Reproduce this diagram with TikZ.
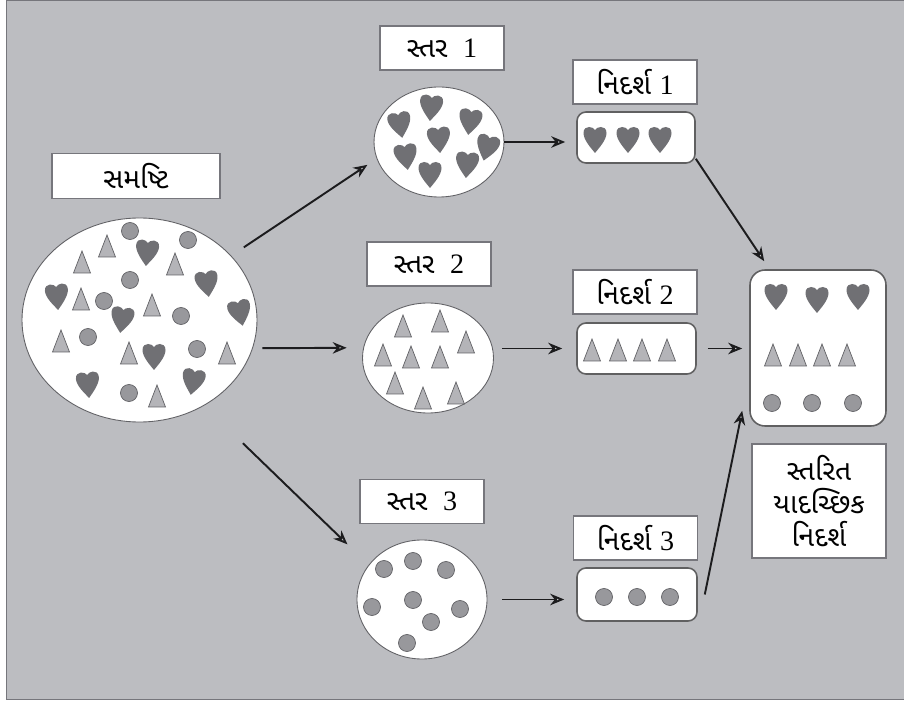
\documentclass[tikz,border=0pt]{standalone}
\usepackage{fontspec}
\setmainfont{Liberation Serif}
\newfontfamily\gujfont[Script=Gujarati]{Noto Sans Gujarati UI}
\usepackage{tikz}
\usetikzlibrary{arrows.meta,positioning,shapes.geometric}
\definecolor{panel}{RGB}{188,189,193}
\definecolor{rim}{RGB}{118,118,124}
\definecolor{ink}{RGB}{28,28,30}
\definecolor{heartgray}{RGB}{112,112,116}
\definecolor{trigray}{RGB}{180,180,184}
\definecolor{dotgray}{RGB}{152,152,156}
\definecolor{edge}{RGB}{98,98,102}
\newcommand{\guj}[1]{{\gujfont #1}}
\tikzset{
  >={Stealth[length=2.8mm,width=2.3mm,inset=0.9mm,open,fill=panel!55!white]},
  tag/.style={draw=rim,fill=white,line width=0.9pt,minimum width=24.8mm,
    minimum height=8.8mm,font=\fontsize{16}{19}\selectfont,inner sep=1pt,align=center},
  pool/.style={ellipse,draw=edge,fill=white,line width=0.5pt,inner sep=0pt},
  tray/.style={draw=ink!70,fill=white,rounded corners=1.8mm,line width=0.9pt,inner sep=0pt},
  flow/.style={->,line width=1.1pt,draw=ink},
  % pictograms
  pics/heart/.style={code={
    \fill[heartgray] (0,13) .. controls (-4,8) and (-11.5,0) .. (-11.5,-7)
      .. controls (-11.5,-11.5) and (-8.5,-13) .. (-6,-13)
      .. controls (-3,-13) and (-1,-11.5) .. (0,-10)
      .. controls (1,-11.5) and (3,-13) .. (6,-13)
      .. controls (8.5,-13) and (11.5,-11.5) .. (11.5,-7)
      .. controls (11.5,0) and (4,8) .. cycle;
  }},
  pics/tri/.style={code={
    \filldraw[fill=trigray,draw=edge,line width=0.4pt] (0,-11) -- (8.5,11) -- (-8.5,11) -- cycle;
  }},
  pics/dot/.style={code={
    \filldraw[fill=dotgray,draw=edge,line width=0.4pt] (0,0) circle (8.5);
  }},
}
\begin{document}
\begin{tikzpicture}[x=0.2mm,y=-0.2mm]
  \useasboundingbox (0,0) rectangle (904,704);
  \fill[panel] (6,0) rectangle (904,700);
  \draw[rim,line width=0.8pt] (904,0.8) -- (6.5,0.8) -- (6.5,699.5) -- (904,699.5);

  % population and strata
  \node[pool,minimum width=47mm,minimum height=40.8mm] (pop) at (139.5,320) {};
  \node[tag,minimum width=33.6mm,minimum height=9mm] (popl) at (136,176) {\guj{સમષ્ટિ}};
  \node[pool,minimum width=26mm,minimum height=22mm] (s1) at (439,142) {};
  \node[tag] (s1l) at (442,48) {\guj{સ્તર}\hspace{0.55em}1};
  \node[pool,minimum width=26.2mm,minimum height=22mm] (s2) at (428,358) {};
  \node[tag] (s2l) at (429,264) {\guj{સ્તર}\hspace{0.55em}2};
  \node[pool,minimum width=26mm,minimum height=23.8mm] (s3) at (422,599.5) {};
  \node[tag] (s3l) at (422,501.5) {\guj{સ્તર}\hspace{0.55em}3};

  % samples
  \node[tray,minimum width=23.6mm,minimum height=10.2mm] (sam1) at (636,137.5) {};
  \node[tag] (sam1l) at (635,82) {\guj{નિદર્શ}\hspace{0.3em}1};
  \node[tray,minimum width=23.8mm,minimum height=10.2mm] (sam2) at (636.5,348.5) {};
  \node[tag] (sam2l) at (635,292) {\guj{નિદર્શ}\hspace{0.3em}2};
  \node[tray,minimum width=24mm,minimum height=10.6mm] (sam3) at (637,594.5) {};
  \node[tag] (sam3l) at (635.5,538) {\guj{નિદર્શ}\hspace{0.3em}3};
  \node[tray,rounded corners=3mm,minimum width=27.2mm,minimum height=31.2mm] (fin) at (818,348) {};
  \node[tag,minimum width=26.8mm,minimum height=22.8mm,font=\fontsize{16}{18.7}\selectfont] (finl) at (819,501)
    {\guj{સ્તરિત}\\\guj{યાદચ્છિક}\\\guj{નિદર્શ}};

  % items
  \foreach \x/\y/\r in {147/253/-5,207/284/8,57/297/5,240/313/12,122/320/-8,154/357/0,88/385/5,193/382/-10,
      400/125/10,431/108/-5,470/122/-8,439/140/5,487/148/-15,406/157/8,467/165/-5,430/175/0,
      595/140/0,628/140/0,660/140/0,776/297/0,817/300/0,858/297/0}
    \pic[rotate=\r] at (\x,\y) {heart};
  \foreach \x/\y in {107/246,82/262,175/264,81/299,152/305,61/341,129/353,227/353,157/396,
      403/326,440/321,466/342,383/355,411/357,440/357,395/383,423/398,456/393,
      592/350,618/350,642/350,667/350,773/355,798/355,822/355,847/355}
    \pic at (\x,\y) {tri};
  \foreach \x/\y in {130/231,188/240,130/280,104/301,181/316,88/337,197/349,129/393,
      384/569,413/561,446/570,372/607,413/600,460/609,431/622,407/643,
      604/597,637/597,670/597,772/403,812/403,853/403}
    \pic at (\x,\y) {dot};

  % arrows
  \draw[flow,shorten <=3mm,shorten >=2.2mm] (pop.35) -- (s1.195);
  \draw[flow,shorten <=1.9mm,shorten >=3.3mm] (pop.-14) -- (s2.171);
  \draw[flow,shorten <=10.8mm,shorten >=5.9mm] (pop.307) -- (s3.147);
  \draw[flow,shorten >=2.2mm] (s1.east) -- (s1.east -| sam1.west);
  \draw[flow,shorten <=1.7mm,shorten >=2.8mm] (s2.east |- sam2.west) -- (sam2.west);
  \draw[flow,shorten <=3mm,shorten >=2.4mm] (s3.east) -- (s3.east -| sam3.west);
  \draw[flow] ([shift={(0,-5)}]sam1.south east) -- ([shift={(15,-8)}]fin.north west);
  \draw[flow,shorten <=2.2mm,shorten >=1.4mm] (sam2.east) -- (sam2.east -| fin.west);
  \draw[flow] ([shift={(7,0)}]sam3.east) -- ([shift={(-7,-16)}]fin.south west);
\end{tikzpicture}
\end{document}
